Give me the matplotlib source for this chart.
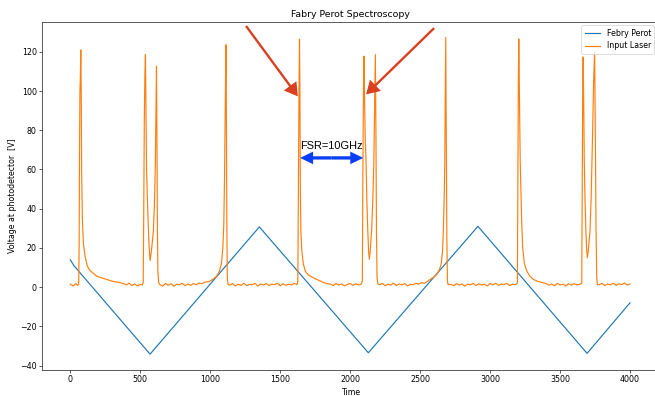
import matplotlib
matplotlib.use("Agg")
import matplotlib.pyplot as plt

# ---------------- data ----------------
# Fabry-Perot ramp (blue): turning points of the triangular scan
fp_time = [0, 25, 570, 1351, 2130, 2913, 3693, 4000]
fp_volt = [14.0, 11.0, -34.2, 30.7, -33.5, 31.0, -33.8, -8.0]

# Input laser (orange): baseline readings every 20 time units between peaks
base_start = [0, 380, 640, 1140, 1860, 2210, 2720, 3400, 3780]
base1 = [1.5, 0.6, 1.8]
base2 = [1.8, 1.1, 2.0, 0.8, 1.6, 0.6, 1.4]
base3 = [1.3, 0.5, 1.9, 0.9, 1.7, 0.4, 1.5, 1.1, 2.0, 0.7, 1.6, 0.9, 1.8, 1.2, 2.1, 1.7]
base4 = [1.0, 1.8, 0.6, 1.5, 0.9, 2.0, 0.7, 1.4, 1.1, 1.9, 0.5, 1.6, 1.0, 1.8, 0.8,
         1.5, 1.2, 2.0, 0.6, 1.7, 0.9, 1.5, 1.1, 1.9, 1.3]
base5 = [1.5, 0.8, 1.9, 1.0, 1.6, 0.6, 1.4, 1.8, 0.9, 1.7, 1.1, 1.5]
base6 = [1.2, 1.9, 0.7, 1.5, 1.0, 2.0, 0.8, 1.6, 1.1, 1.8, 0.6, 1.4, 1.2, 2.0, 1.5, 2.3, 1.9, 2.8]
base7 = [1.4, 0.7, 1.8, 1.0, 1.6, 0.5, 1.5, 1.2, 1.9, 0.8, 1.7, 1.0, 1.5, 0.6, 1.8, 1.1,
         2.0, 0.9, 1.6, 1.3, 1.9, 0.8, 1.5, 1.2]
base8 = [1.8, 1.0, 1.6, 0.7, 1.9, 1.1, 1.5, 0.6, 1.7, 1.0, 1.8, 1.2, 1.4]
base9 = [1.2, 1.9, 0.8, 1.6, 1.1, 2.0, 0.9, 1.7, 1.3, 2.1, 1.0, 1.6]

# Input laser peak regions (time, voltage)
peakA_t = [52, 60, 63, 66, 69, 72, 75, 78, 81, 86, 94, 105, 120, 140, 165, 190, 220, 260, 300, 330, 360]
peakA_v = [0.9, 1.5, 20, 70, 100, 108, 121, 100, 60, 35, 22, 16, 11, 8.5, 7, 5.5, 4.8, 3.9, 3.0, 2.6, 2.2]

peakBC_t = [515, 521, 525, 529, 533, 537, 541, 545, 551, 557, 563, 570, 577, 585, 594,
            601, 608, 612, 616, 619, 622, 626, 632]
peakBC_v = [1.0, 2.5, 40, 85, 108, 118.6, 90, 60, 45, 32, 21, 13.5, 17, 22, 29,
            42, 63, 90, 112.7, 80, 35, 8, 2.0]

peakD_t = [960, 990, 1020, 1045, 1065, 1080, 1090, 1097, 1102, 1106, 1110, 1113, 1116, 1119, 1122, 1127]
peakD_v = [2.5, 2.8, 4.0, 5.5, 8.0, 12, 20, 32, 55, 85, 110, 123.6, 80, 30, 5, 1.3]

peakE_t = [1626, 1630, 1634, 1638, 1641, 1644, 1648, 1655, 1666, 1680, 1700, 1720, 1750, 1785, 1815, 1845]
peakE_v = [3.0, 50, 95, 126.5, 100, 50, 28, 18, 11.6, 8.0, 6.3, 5.4, 4.3, 3.2, 2.2, 1.6]

peakHI_t = [2087, 2091, 2095, 2099, 2103, 2108, 2114, 2120, 2126, 2132, 2137, 2143, 2149,
            2154, 2162, 2169, 2174, 2180, 2184, 2188, 2192, 2198]
peakHI_v = [3.0, 60, 100, 117.8, 95, 75, 62.8, 42, 28.7, 18, 14.2, 18, 25,
            30, 45, 63, 90, 118.6, 80, 30, 5, 1.5]

peakF_t = [2571, 2595, 2619, 2638, 2650, 2660, 2666, 2672, 2676, 2680, 2683, 2687, 2691, 2695, 2700]
peakF_v = [3.9, 5.0, 6.5, 9.0, 11.6, 18, 28.7, 45, 62.8, 100, 127.4, 80, 25, 3.1, 1.2]

peakG_t = [3195, 3199, 3202, 3205, 3210, 3215, 3219, 3226, 3233, 3245, 3262, 3285, 3310, 3345, 3381]
peakG_v = [2.0, 60, 105, 126.6, 95, 65, 54, 33, 20, 12, 8.2, 5.5, 3.9, 2.8, 2.2]

peakJK_t = [3655, 3659, 3662, 3665, 3669, 3673, 3678, 3684, 3690, 3695, 3701, 3707, 3714,
            3722, 3733, 3740, 3747, 3752, 3757, 3762, 3767]
peakJK_v = [2.0, 60, 100, 117.4, 95, 65, 45.7, 30, 19, 15, 18, 23, 28.7,
            45, 80, 105, 119.7, 80, 30, 4.8, 1.3]

# ---------------- assemble laser trace ----------------
bases = [base1, base2, base3, base4, base5, base6, base7, base8, base9]
peaks = [(peakA_t, peakA_v), (peakBC_t, peakBC_v), (peakD_t, peakD_v), (peakE_t, peakE_v),
         (peakHI_t, peakHI_v), (peakF_t, peakF_v), (peakG_t, peakG_v), (peakJK_t, peakJK_v)]
laser_time, laser_volt = [], []
for i, (t0, vals) in enumerate(zip(base_start, bases)):
    laser_time += [t0 + 20 * k for k in range(len(vals))]
    laser_volt += vals
    if i < len(peaks):
        laser_time += peaks[i][0]
        laser_volt += peaks[i][1]

# ---------------- figure ----------------
DPI = 56.5
fig = plt.figure(figsize=(655 / DPI, 396 / DPI), dpi=DPI)
ax = fig.add_axes([0.0646, 0.0657, 0.9400, 0.8800])

ax.plot(fp_time, fp_volt, color="C0", label="Febry Perot")
ax.plot(laser_time, laser_volt, color="C1", label="Input Laser")

ax.set_title("Fabry Perot Spectroscopy")
ax.set_xlabel("Time")
ax.set_ylabel("Voltage at photodetector  [V]")
ax.legend(loc="upper right")

red = "#d8401f"
blue = "#0a3ff5"
red_style = "simple,head_length=1.66,head_width=2.0,tail_width=0.3"
ax.annotate("", xy=(1626, 97.3), xytext=(1256, 133.2), xycoords="data",
            arrowprops=dict(arrowstyle=red_style, mutation_scale=10, color=red, lw=0,
                            shrinkA=0, shrinkB=0))
ax.annotate("", xy=(2114, 98.3), xytext=(2600, 132.1), xycoords="data",
            arrowprops=dict(arrowstyle=red_style, mutation_scale=10, color=red, lw=0,
                            shrinkA=0, shrinkB=0))
blue_style = "simple,head_length=1.66,head_width=1.6,tail_width=0.42"
ax.annotate("", xy=(1642, 65.9), xytext=(1868, 65.9), xycoords="data",
            arrowprops=dict(arrowstyle=blue_style, mutation_scale=10, color=blue, lw=0,
                            shrinkA=0, shrinkB=0))
ax.annotate("", xy=(2094, 65.9), xytext=(1868, 65.9), xycoords="data",
            arrowprops=dict(arrowstyle=blue_style, mutation_scale=10, color=blue, lw=0,
                            shrinkA=0, shrinkB=0))
ax.text(1640, 70.5, "FSR=10GHz", fontsize=14, family=["Liberation Sans", "DejaVu Sans"],
        ha="left", va="baseline", color="black")

fig.savefig("out.png", dpi=DPI)
